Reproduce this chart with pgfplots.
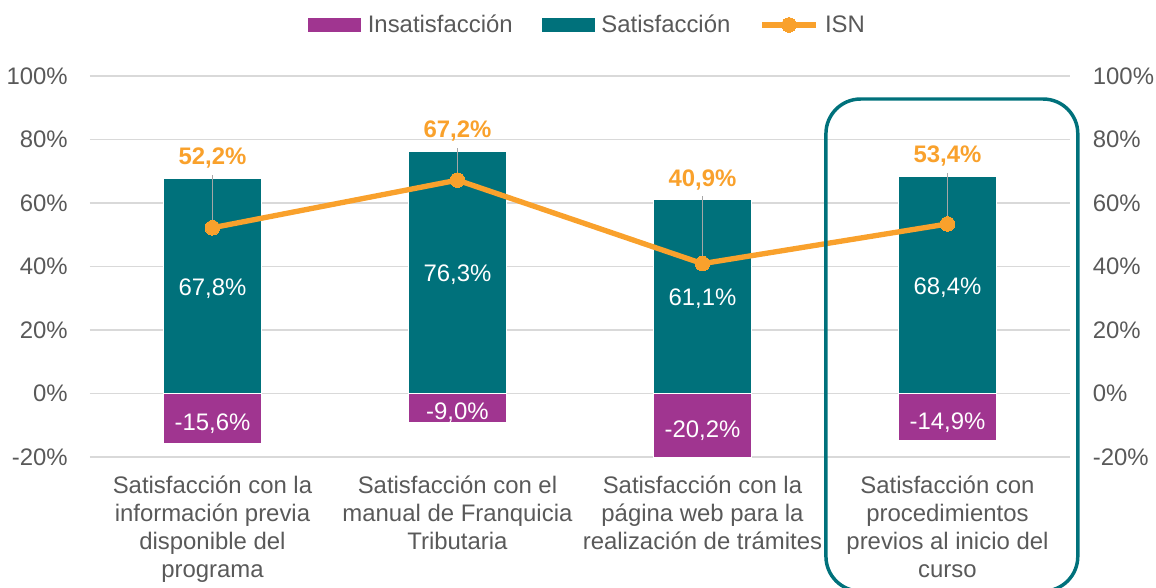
\documentclass[border=0pt]{standalone}
\usepackage{pgfplots}
\pgfplotsset{compat=1.18}
\usepackage{pgfplotstable}
\usepackage{fontspec}
\setmainfont{Liberation Sans}

\definecolor{insat}{HTML}{A03590}
\definecolor{sat}{HTML}{00717B}
\definecolor{isn}{HTML}{F9A12C}
\definecolor{txt}{HTML}{595959}
\definecolor{grd}{HTML}{D9D9D9}
\definecolor{lead}{HTML}{A6A6A6}

\newcommand{\lbl}{\fontsize{18}{21}\selectfont}

% satisfaccion, insatisfaccion e ISN por item
\pgfplotstableread{
x sat insat isn
0 67.8 -15.6 52.2
1 76.3 -9.0 67.2
2 61.1 -20.2 40.9
3 68.4 -14.9 53.4
}\datatab

\pgfplotsset{
  base/.style={
    scale only axis, width=735bp, height=285.75bp,
    xmin=-0.5, xmax=3.5, ymin=-20, ymax=100,
    ytick={-20,0,...,100},
    major tick length=0pt,
    /pgf/number format/assume math mode=true,
    yticklabel={\pgfmathprintnumber{\tick}\%},
    ticklabel style={font=\lbl, text=txt},
  },
  pct/.style={
    nodes near coords={\pgfmathprintnumber[fixed,fixed zerofill,precision=1,use comma]{\pgfplotspointmeta}\%},
  },
  isnlegend/.style={
    legend image code/.code={\draw[mark repeat=2, mark phase=2, ##1]
      plot coordinates {(0bp,0bp) (20bp,0bp) (40bp,0bp)};}
  },
}

\begin{document}
\begin{tikzpicture}
\begin{axis}[
  base,
  clip=false,
  axis line style={draw=none},
  ymajorgrids, grid style={grd, line width=1.1bp},
  yticklabel style={inner sep=0pt, anchor=east, xshift=-16.5bp},
  xtick={0,1,2,3},
  xticklabels={
    {Satisfacción con la\\información previa\\disponible del\\programa},
    {Satisfacción con el\\manual de Franquicia\\Tributaria},
    {Satisfacción con la\\página web para la\\realización de trámites},
    {Satisfacción con\\procedimientos\\previos al inicio del\\curso}},
  xticklabel style={align=center, inner sep=0pt, anchor=north, yshift=-14bp},
  legend style={at={(0.5,1.134)}, anchor=center, xshift=6bp, draw=none, fill=none,
    font=\lbl, text=txt, legend columns=-1,
    /tikz/every odd column/.append style={column sep=3bp},
    /tikz/every even column/.append style={column sep=20bp}},
  legend cell align=left,
]
% Insatisfaccion
\addplot[ybar, bar width=0.4, bar shift=0, fill=insat, draw=white, line width=0.6bp,
  pct, visualization depends on={y \as \rawy},
  nodes near coords style={font=\lbl, text=white, anchor=center, yshift=-4bp,
    shift={(axis direction cs:0,-\rawy/2)}},
  legend image code/.code={\fill[insat] (0bp,-5bp) rectangle (39bp,5bp);}]
  table[x=x, y=insat]{\datatab};
\addlegendentry{Insatisfacción}
% Satisfaccion
\addplot[ybar, bar width=0.4, bar shift=0, fill=sat, draw=white, line width=0.6bp,
  pct, visualization depends on={y \as \rawy},
  nodes near coords style={font=\lbl, text=white, anchor=center, yshift=-2bp,
    shift={(axis direction cs:0,-\rawy/2)}},
  legend image code/.code={\fill[sat] (0bp,-5bp) rectangle (39bp,5bp);}]
  table[x=x, y=sat]{\datatab};
\addlegendentry{Satisfacción}
% ISN
\addplot[isn, line width=4bp, mark=*, mark size=5.5bp,
  mark options={fill=isn, draw=isn, line width=0pt},
  error bars/.cd, y dir=plus, y explicit, error mark=none,
  error bar style={lead, line width=0.9bp},
  /pgfplots/.cd,
  pct, visualization depends on={y \as \rawy},
  visualization depends on={\thisrow{sat} \as \satv},
  nodes near coords style={font=\lbl\bfseries, text=isn, anchor=center,
    shift={(axis direction cs:0,\satv-\rawy+6.3)}},
  isnlegend]
  table[x=x, y=isn, y error expr=\thisrow{sat}-\thisrow{isn}+1]{\datatab};
\addlegendentry{ISN}
% recuadro resaltado
\draw[sat, line width=2.6bp, rounded corners=26bp]
  (rel axis cs:0.751,-0.352) rectangle (rel axis cs:1.008,0.9396);
\coordinate (bbsw) at (rel axis cs:-0.0918,-0.3438);
\coordinate (bbne) at (rel axis cs:1.0878,1.1995);
\end{axis}
\begin{axis}[
  base,
  axis y line*=right,
  y axis line style={draw=none},
  hide x axis,
  yticklabel style={inner sep=0pt, anchor=west, xshift=17bp},
]
\addplot[draw=none] coordinates {(0,0)};
\end{axis}
\pgfresetboundingbox
\useasboundingbox (bbsw) rectangle (bbne);
\end{tikzpicture}
\end{document}
